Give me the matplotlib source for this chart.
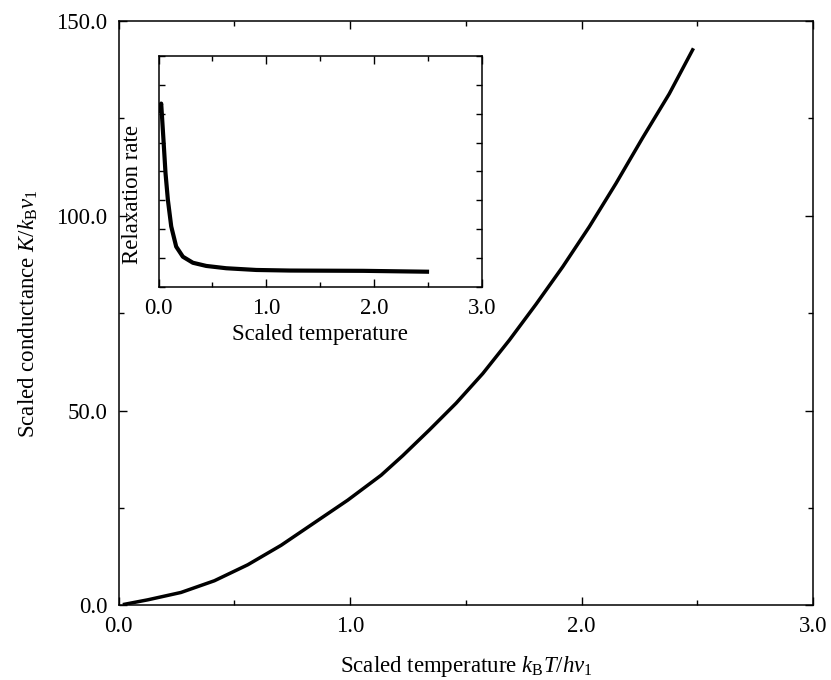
import matplotlib
matplotlib.use("Agg")
import matplotlib.pyplot as plt
from matplotlib.ticker import MultipleLocator, FormatStrFormatter, NullFormatter

plt.rcParams['font.family'] = ['Liberation Serif', 'DejaVu Serif']
plt.rcParams['mathtext.fontset'] = 'custom'
plt.rcParams['mathtext.rm'] = 'Liberation Serif'
plt.rcParams['mathtext.it'] = 'Liberation Serif:italic'

# Main curve: scaled conductance vs scaled temperature
temp_main = [0.026, 0.126, 0.270, 0.414, 0.558, 0.702, 0.846, 0.990, 1.134, 1.227,
             1.342, 1.458, 1.573, 1.688, 1.803, 1.918, 2.033, 2.148, 2.263, 2.378, 2.479]
cond_main = [0.26, 1.4, 3.3, 6.3, 10.4, 15.4, 21.2, 27.0, 33.4, 38.4,
             45.0, 51.9, 59.5, 68.1, 77.3, 86.9, 97.2, 108.3, 120.0, 131.3, 142.6]

# Inset: relaxation rate vs scaled temperature (arbitrary units)
temp_inset = [0.010, 0.025, 0.046, 0.065, 0.087, 0.118, 0.164, 0.226, 0.319,
              0.443, 0.628, 0.907, 1.22, 1.9, 2.49]
rate_inset = [6.1, 6.35, 5.1, 3.94, 3.01, 2.09, 1.39, 1.04, 0.83,
              0.72, 0.64, 0.58, 0.56, 0.55, 0.52]

main_xticks = [0.0, 1.0, 2.0, 3.0]
main_yticks = [0.0, 50.0, 100.0, 150.0]
inset_xticks = [0.0, 1.0, 2.0, 3.0]

FS = 16.5
W, H = 831, 680
fig = plt.figure(figsize=(W / 100, H / 100), dpi=100)

def style(ax):
    ax.tick_params(which='both', direction='in', top=True, right=True,
                   labelsize=FS, width=1.0, pad=8)
    ax.tick_params(which='major', length=6)
    ax.tick_params(which='minor', length=3.5)
    for s in ax.spines.values():
        s.set_linewidth(1.1)

ax = fig.add_axes([118.5 / W, 1 - 605.3 / H, (813.3 - 118.5) / W, (605.3 - 21) / H])
ax.plot(temp_main, cond_main, color='black', lw=2.5, solid_joinstyle='round')
ax.set_xlim(0, 3)
ax.set_ylim(0, 150)
ax.set_xticks(main_xticks)
ax.set_yticks(main_yticks)
ax.xaxis.set_minor_locator(MultipleLocator(0.5))
ax.yaxis.set_minor_locator(MultipleLocator(25))
ax.xaxis.set_major_formatter(FormatStrFormatter('%.1f'))
ax.yaxis.set_major_formatter(FormatStrFormatter('%.1f'))
style(ax)
ax.set_xlabel(r'Scaled temperature $k_{\mathrm{B}}T/h\nu_1$', fontsize=FS, labelpad=12)
ax.set_ylabel(r'Scaled conductance $K/k_{\mathrm{B}}\nu_1$', fontsize=FS, labelpad=12)

axi = fig.add_axes([158.5 / W, 1 - 286.7 / H, (482 - 158.5) / W, (286.7 - 56) / H])
axi.plot(temp_inset, rate_inset, color='black', lw=3.0, solid_joinstyle='round')
axi.set_xlim(0, 3)
axi.set_ylim(0, 8)
axi.set_xticks(inset_xticks)
axi.xaxis.set_minor_locator(MultipleLocator(0.5))
axi.xaxis.set_major_formatter(FormatStrFormatter('%.1f'))
axi.yaxis.set_major_locator(MultipleLocator(1))
axi.yaxis.set_major_formatter(NullFormatter())
style(axi)
axi.tick_params(axis='y', which='major', length=4)
axi.set_xlabel('Scaled temperature', fontsize=FS, labelpad=4)
axi.set_ylabel('Relaxation rate', fontsize=FS)
axi.yaxis.set_label_coords(-0.048, 0.40)

fig.savefig('out.png', dpi=100)
